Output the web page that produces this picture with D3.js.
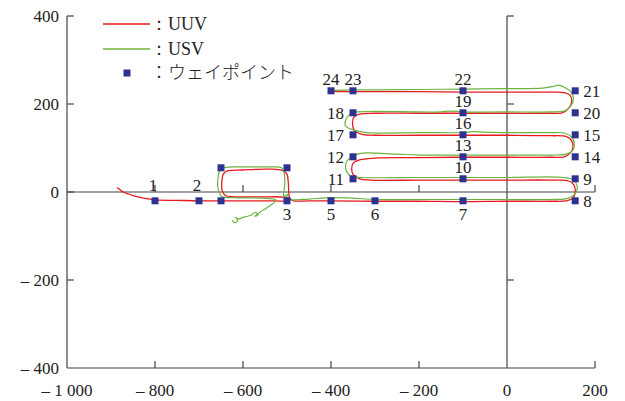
<!DOCTYPE html>
<html>
<head>
<meta charset="utf-8">
<script src="https://cdn.jsdelivr.net/npm/d3@7"></script>
<style>
  body { margin: 0; background: #fff; }
  svg text { font-family: "Liberation Serif", "Times New Roman", serif; fill: #222; }
</style>
</head>
<body>
<div id="chart"></div>
<script>
const w = 625, h = 401;

// axis ticks
const xTicks = [-1000, -800, -600, -400, -200, 0, 200];
const xTickLabels = ["\u2013 1 000", "\u2013 800", "\u2013 600", "\u2013 400", "\u2013 200", "0", "200"];
const yTicks = [400, 200, 0, -200, -400];
const yTickLabels = ["400", "200", "0", "\u2013 200", "\u2013 400"];

// waypoints (x, y) and their labels
const wpX = [-800, -700, -650, -650, -500, -500, -400, -300, -100, 155, 155, -100, -350, -350, -100, 155, 155, -100, -350, -350, -100, 155, 155, -100, -350, -400];
const wpY = [-20, -20, -20, 55, 55, -20, -20, -20, -20, -20, 30, 30, 30, 80, 80, 80, 130, 130, 130, 180, 180, 180, 230, 230, 230, 230];
const wpName = ["1", "2", "", "", "", "3", "5", "6", "7", "8", "9", "10", "11", "12", "13", "14", "15", "16", "17", "18", "19", "20", "21", "22", "23", "24"];
const wpSide = ["up", "up", "", "", "", "down", "down", "down", "down", "right", "right", "up", "left", "left", "up", "right", "right", "up", "left", "left", "up", "right", "right", "up", "up", "up"];

// UUV track
const uuvX = [-886, -872, -850, -820, -800, -750, -700, -650, -600, -540, -505, -495, -505, -560, -620, -640, -647, -648, -644, -635, -600, -540, -510, -500, -497, -496, -494, -485, -450, -400, -300, -200, -100, 0, 100, 135, 150, 155, 152, 140, 100, 0, -100, -200, -310, -335, -350, -353, -350, -335, -300, -200, -100, 0, 100, 130, 145, 150, 146, 135, 100, 0, -100, -200, -300, -330, -347, -351, -348, -335, -300, -200, -100, 0, 100, 125, 140, 147, 143, 130, 100, 0, -100, -200, -300, -350, -400];
const uuvY = [10, 0, -8, -15, -18, -19, -20, -20, -20, -20, -20, -16, -12, -11, -11, -8, 2, 25, 42, 48, 50, 52, 49, 40, 20, 0, -14, -20, -20, -20, -21, -21, -22, -21, -21, -20, -14, 0, 16, 25, 27, 27, 27, 27, 27, 30, 40, 52, 65, 73, 77, 78, 79, 79, 79, 80, 90, 103, 118, 126, 128, 129, 129, 129, 129, 131, 140, 155, 170, 177, 179, 179, 179, 179, 179, 180, 190, 205, 220, 226, 227, 227, 227, 228, 228, 228, 229];

// USV track
const usvX = [-625, -618, -612, -617, -610, -598, -582, -572, -566, -573, -560, -540, -525, -560, -620, -648, -656, -657, -652, -640, -600, -540, -512, -506, -505, -507, -508, -502, -499, -505, -500, -490, -450, -400, -350, -300, -200, -100, 0, 100, 140, 157, 159, 150, 130, 0, -100, -200, -330, -355, -366, -364, -352, -340, -320, -250, -200, -100, 0, 100, 135, 150, 153, 147, 130, 100, 0, -50, -80, -100, -200, -300, -320, -345, -367, -366, -355, -340, -200, -150, -130, -100, 0, 100, 130, 145, 151, 145, 130, 118, 105, 80, 0, -100, -200, -300, -350, -400];
const usvY = [-64, -70, -64, -58, -61, -57, -53, -46, -52, -55, -45, -32, -18, -14, -13, -10, 5, 30, 50, 56, 57, 57, 55, 40, 20, 0, -8, -12, -6, -9, -16, -18, -16, -13, -14, -17, -17, -17, -17, -17, -14, 0, 15, 28, 33, 33, 33, 33, 33, 36, 50, 70, 80, 86, 89, 86, 84, 84, 84, 84, 86, 95, 110, 125, 134, 135, 135, 136, 137, 135, 135, 134, 135, 140, 150, 165, 178, 182, 182, 182, 184, 182, 182, 182, 184, 195, 212, 228, 238, 243, 240, 236, 235, 234, 233, 232, 232, 231];

const x = d3.scaleLinear().domain([-1000, 200]).range([67, 595]);
const y = d3.scaleLinear().domain([-400, 400]).range([368, 16]);

const svg = d3.select("#chart").append("svg")
    .attr("width", w)
    .attr("height", h);

const axisColor = "#444";
const tickLen = 7;

// frame lines: left axis, bottom axis, x=0 and y=0 lines
const axes = svg.append("g")
    .attr("stroke", axisColor)
    .attr("stroke-width", 1.2)
    .attr("fill", "none");

[-1000, 0].forEach(function (xv) {
    axes.append("line")
        .attr("x1", x(xv)).attr("x2", x(xv))
        .attr("y1", y(400)).attr("y2", y(-400));
    yTicks.forEach(function (t) {
        if (t === -400 || (xv === 0 && t === 0)) return;
        axes.append("line")
            .attr("x1", x(xv)).attr("x2", x(xv) + tickLen)
            .attr("y1", y(t)).attr("y2", y(t));
    });
});

[-400, 0].forEach(function (yv) {
    axes.append("line")
        .attr("x1", x(-1000)).attr("x2", x(200))
        .attr("y1", y(yv)).attr("y2", y(yv));
    xTicks.forEach(function (t) {
        if (t === -1000 || t === 0) return;
        axes.append("line")
            .attr("x1", x(t)).attr("x2", x(t))
            .attr("y1", y(yv)).attr("y2", y(yv) - tickLen);
    });
});

// tick labels
svg.append("g").selectAll("text")
    .data(xTicks)
    .enter().append("text")
    .attr("x", function (d) { return x(d); })
    .attr("y", y(-400) + 28)
    .attr("text-anchor", "middle")
    .style("font-size", "17px")
    .text(function (d, i) { return xTickLabels[i]; });

svg.append("g").selectAll("text")
    .data(yTicks)
    .enter().append("text")
    .attr("x", x(-1000) - 8)
    .attr("y", function (d) { return y(d) + 6; })
    .attr("text-anchor", "end")
    .style("font-size", "17px")
    .text(function (d, i) { return yTickLabels[i]; });

// tracks
const line = d3.line()
    .x(function (d) { return x(d[0]); })
    .y(function (d) { return y(d[1]); })
    .curve(d3.curveCatmullRom.alpha(0.5));

const uuv = uuvX.map(function (v, i) { return [v, uuvY[i]]; });
const usv = usvX.map(function (v, i) { return [v, usvY[i]]; });

const red = "#e8191f", green = "#6db33f", navy = "#2d3190";

svg.append("path")
    .attr("d", line(uuv))
    .attr("fill", "none")
    .attr("stroke", red)
    .attr("stroke-width", 1.3);

svg.append("path")
    .attr("d", line(usv))
    .attr("fill", "none")
    .attr("stroke", green)
    .attr("stroke-width", 1.2);

// waypoints
const wps = wpX.map(function (v, i) { return { x: v, y: wpY[i], name: wpName[i], side: wpSide[i] }; });
const sq = 7;

svg.append("g").selectAll("rect")
    .data(wps)
    .enter().append("rect")
    .attr("x", function (d) { return x(d.x) - sq / 2; })
    .attr("y", function (d) { return y(d.y) - sq / 2; })
    .attr("width", sq)
    .attr("height", sq)
    .attr("fill", navy);

const offs = { up: [0, -12], down: [0, 13], left: [-17, 0], right: [14, 0] };

svg.append("g").selectAll("text")
    .data(wps.filter(function (d) { return d.name !== ""; }))
    .enter().append("text")
    .attr("x", function (d) {
        let o = offs[d.side][0];
        if (d.side === "up" && d.y < 0) o = -2;
        return x(d.x) + o;
    })
    .attr("y", function (d) {
        let o = offs[d.side][1];
        if (d.side === "up" && d.y < 0) o = -16;
        return y(d.y) + o + 6;
    })
    .attr("text-anchor", function (d) {
        if (d.side === "left") return "end";
        if (d.side === "right") return "start";
        return "middle";
    })
    .attr("dx", function (d) {
        if (d.side === "left") return 8;
        if (d.side === "right") return -6;
        return 0;
    })
    .style("font-size", "17px")
    .text(function (d) { return d.name; });

// legend
const legend = svg.append("g");
legend.append("line")
    .attr("x1", 103).attr("x2", 150).attr("y1", 24).attr("y2", 24)
    .attr("stroke", red).attr("stroke-width", 1.3);
legend.append("line")
    .attr("x1", 103).attr("x2", 150).attr("y1", 49).attr("y2", 49)
    .attr("stroke", green).attr("stroke-width", 1.3);
legend.append("rect")
    .attr("x", 127 - sq / 2).attr("y", 73 - sq / 2)
    .attr("width", sq).attr("height", sq)
    .attr("fill", navy);

const legendText = ["\uFF1AUUV", "\uFF1AUSV", "\uFF1A\u30A6\u30A7\u30A4\u30DD\u30A4\u30F3\u30C8"];
legend.selectAll("text")
    .data(legendText)
    .enter().append("text")
    .attr("x", 150)
    .attr("y", function (d, i) { return 24 + i * 24.5 + 6; })
    .style("font-size", "18px")
    .style("font-family", function (d, i) {
        return i === 2 ? "'Noto Sans CJK JP', sans-serif" : "'Liberation Serif', serif";
    })
    .style("font-weight", function (d, i) { return i === 2 ? 300 : 400; })
    .text(function (d) { return d; });
</script>
</body>
</html>
